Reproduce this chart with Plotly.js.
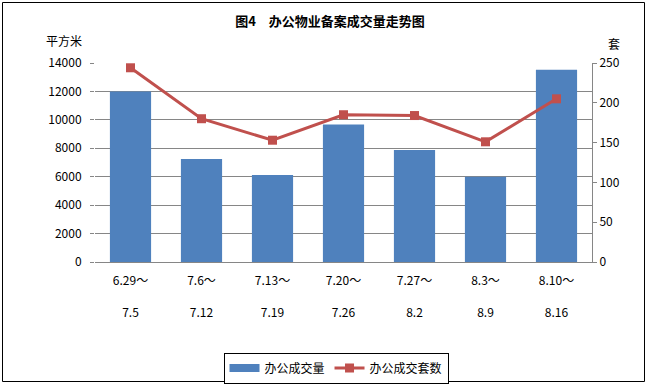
<!DOCTYPE html>
<html><head><meta charset="utf-8">
<script src="https://cdn.plot.ly/plotly-3.0.1.min.js"></script>
<style>html,body{margin:0;padding:0;background:#fff}#c{width:649px;height:385px}</style>
</head><body><div id="c"></div>
<script>
const periodsStart = ["6.29～","7.6～","7.13～","7.20～","7.27～","8.3～","8.10～"];
const periodsEnd = ["7.5","7.12","7.19","7.26","8.2","8.9","8.16"];
const areaValues = [12000, 7250, 6120, 9670, 7880, 6000, 13530];
const unitValues = [244, 180, 153, 185, 184, 151, 205];
const leftTicks = [0,2000,4000,6000,8000,10000,12000,14000];
const rightTicks = [0,50,100,150,200,250];

const idx = periodsStart.map((_, i) => i);
const tickText = periodsStart.map((s, i) => s + "<br><br>" + periodsEnd[i]);
const F = '"Noto Sans CJK SC", "SimSun", sans-serif';

const L = 95, R = 592, T = 63, B = 262, W = 649, H = 385;
const px = x => (x - L) / (R - L);
const py = y => (B - y) / (B - T);

const traces = [
  {type:'bar', x: idx, y: areaValues, name:'办公成交量', marker:{color:'#4F81BD'}, yaxis:'y', showlegend:false},
  {type:'scatter', mode:'lines', x:[null], y:[null], name:'办公成交量', yaxis:'y',
   line:{color:'#4F81BD', width:8}, showlegend:true, hoverinfo:'skip'},
  {type:'scatter', mode:'lines+markers', x: idx, y: unitValues, name:'办公成交套数', yaxis:'y2',
   line:{color:'#C0504D', width:3}, marker:{color:'#C0504D', symbol:'square', size:9}}
];

const layout = {
  width: W, height: H,
  margin: {l: L, r: W - R, t: T, b: H - B, pad: 0, autoexpand:false},
  paper_bgcolor:'#fff', plot_bgcolor:'#fff',
  font: {family: F, size: 12, color:'#000'},
  bargap: 0.42,
  showlegend: true,
  legend: {orientation:'h', xref:'container', yref:'container', x: 336/W, xanchor:'center',
           y: 1 - 368/H, yanchor:'middle',
           bordercolor:'#000', borderwidth:1, font:{family:F, size:12}, traceorder:'normal'},
  title: {text:'<b>图4　办公物业备案成交量走势图</b>', font:{family:F, size:13, color:'#000'},
          x: px(330), xanchor:'center', xref:'paper', y: 1 - 21/H, yanchor:'middle'},
  xaxis: {range:[-0.5, 6.5], tickvals: idx, ticktext: tickText, showgrid:false, zeroline:false,
          showline:true, linecolor:'#868686', linewidth:1, ticks:'', tickfont:{family:F, size:12},
          ticklabelstandoff: 8, automargin:false},
  yaxis: {range:[0,14000], tickvals: leftTicks, ticktext: leftTicks.map(String), showgrid:true,
          gridcolor:'#868686', gridwidth:1,
          zeroline:false, showline:false, ticks:'outside', ticklen:4, tickcolor:'#868686',
          tickfont:{family:F, size:12}, ticklabelstandoff: 6, automargin:false},
  yaxis2: {range:[0,250], tickvals: rightTicks, ticktext: rightTicks.map(String), overlaying:'y', side:'right',
           showgrid:false, zeroline:false, showline:true, linecolor:'#868686', linewidth:1, ticks:'outside',
           ticklen:4, tickcolor:'#868686', tickfont:{family:F, size:12}, automargin:false},
  annotations: [
    {text:'平方米', xref:'paper', yref:'paper', x: px(64), y: py(41), xanchor:'center', yanchor:'middle',
     showarrow:false, font:{family:F, size:12}},
    {text:'套', xref:'paper', yref:'paper', x: px(614), y: py(43), xanchor:'center', yanchor:'middle',
     showarrow:false, font:{family:F, size:12}}
  ],
  shapes: [
    {type:'rect', xref:'paper', yref:'paper', x0: px(2.5), x1: px(644.5), y0: py(2.5), y1: py(381.5),
     line:{color:'#000', width:1}, fillcolor:'rgba(0,0,0,0)', layer:'below'}
  ]
};
Plotly.newPlot('c', traces, layout, {staticPlot:true, displayModeBar:false});
</script></body></html>
